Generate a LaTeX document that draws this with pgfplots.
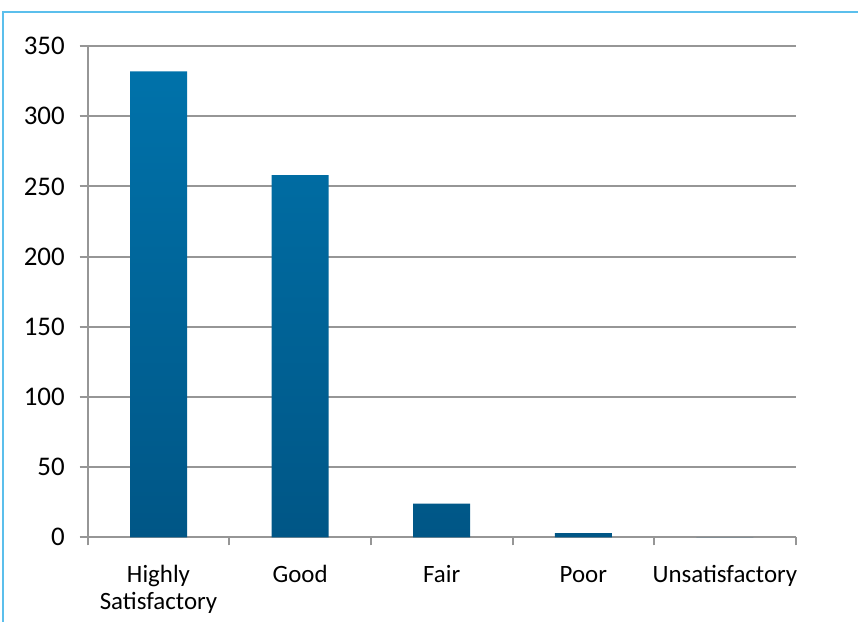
\documentclass[border=0pt]{standalone}
\usepackage{fontspec}
\setmainfont{Carlito}
\usepackage{pgfplots}
\pgfplotsset{compat=1.18}

\definecolor{frameblue}{HTML}{5BBFEC}
\definecolor{gridgray}{HTML}{969696}
\definecolor{bartop}{HTML}{0072AA}
\definecolor{barbot}{HTML}{005686}

\begin{document}
\begin{tikzpicture}[x=1bp,y=1bp]
  \path[use as bounding box] (0,0) rectangle (429,311);
  % outer chart frame (top and left edges)
  \draw[frameblue, line width=1bp] (1.75,0) -- (1.75,304.75) -- (429,304.75);
  % the origin anchor is data point (0,0), half a category right of the y axis
  \begin{axis}[
    at={(79.25bp,42.35bp)}, anchor=origin,
    scale only axis,
    width=354bp, height=245.65bp,
    xmin=-0.5, xmax=4.5,
    ymin=0, ymax=350,
    axis lines*=left,
    axis line style={gridgray, line width=1bp},
    ytick={0,50,...,350},
    ymajorgrids,
    grid style={gridgray, line width=1bp},
    xtick={0,1,2,3,4},
    xticklabels={\strut Highly\\\strut Satisfactory, \strut Good, \strut Fair, \strut Poor, \strut Unsatisfactory},
    minor xtick={-0.5,0.5,...,4.5},
    major x tick style={draw=none},
    minor x tick style={gridgray, line width=1bp},
    y tick style={gridgray, line width=1bp},
    tick align=outside,
    major tick length=4bp,
    minor tick length=4bp,
    /pgf/number format/assume math mode=true,
    tick label style={text=black},
    xticklabel style={font=\fontsize{12.5}{13.5}\selectfont, align=center, yshift=-5.5bp},
    yticklabel style={font=\fontsize{13.5}{14}\selectfont, xshift=-4bp},
  ]
    \addplot[ybar, bar width=28.5bp, draw=none,
             top color=bartop, bottom color=barbot]
      coordinates {(0,332) (1,258) (2,24) (3,3) (4,0)};
  \end{axis}
\end{tikzpicture}
\end{document}
